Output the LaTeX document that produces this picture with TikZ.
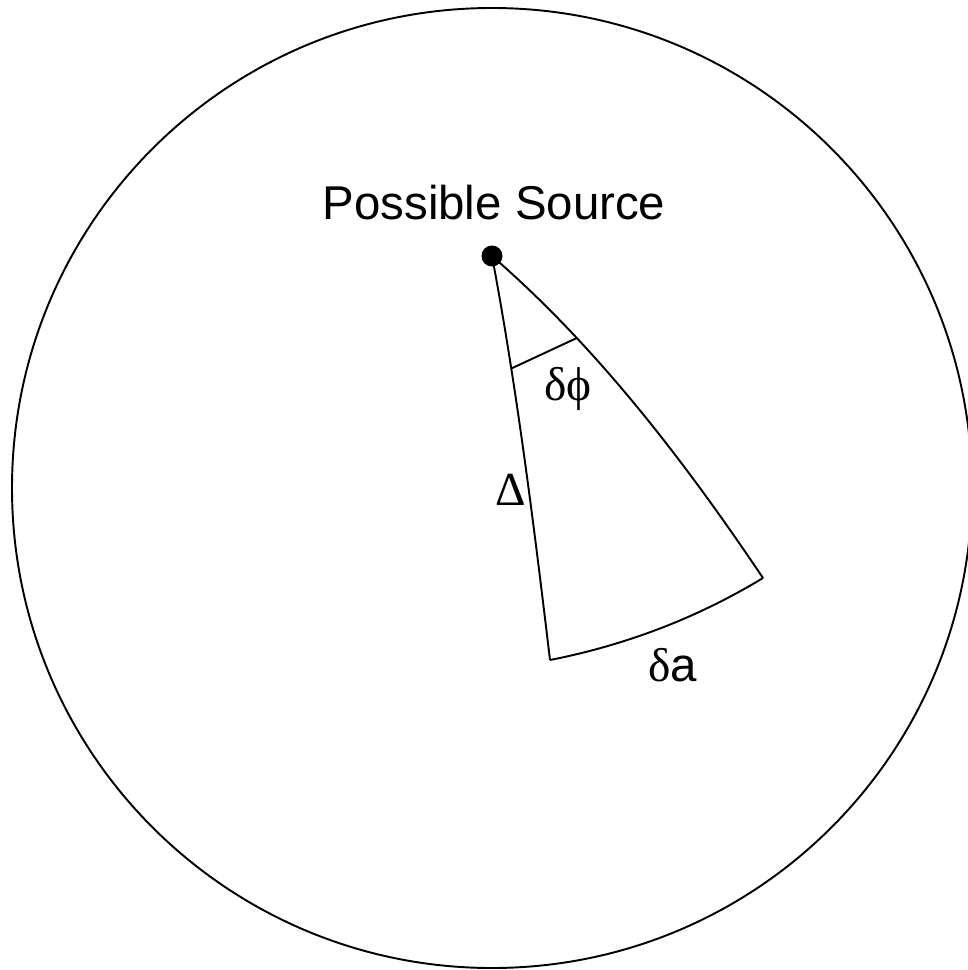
\documentclass[tikz,border=0pt]{standalone}
\usepackage{fontspec}
\setmainfont{Liberation Sans}
\newfontfamily\greekfont{Liberation Serif}
\usetikzlibrary{positioning}

\begin{document}
\begin{tikzpicture}[
    x=0.02cm, y=-0.02cm,
    edge/.style={draw=black, line width=1.1pt},
    lbl/.style={font=\fontsize{27}{32}\selectfont, inner sep=0pt, anchor=base},
    grk/.style={lbl, font=\fontsize{27}{32}\selectfont\greekfont},
    dot/.style={circle, fill=black, inner sep=0pt, minimum size=0.42cm}
  ]
    \useasboundingbox (0,0) rectangle (967,970);
    % sky circle
    \draw[edge] (492,488) circle[radius=480];
    % source and corners of the patch
    \node[dot] (src) at (492,256) {};
    \coordinate (bl) at (550,660);
    \coordinate (br) at (763,578);
    \draw[edge] (src.center) .. controls (517,389) and (534,526) .. (bl)
      coordinate[pos=0.28] (dl);
    \draw[edge] (src.center) .. controls (598,348) and (685,462) .. (br)
      coordinate[pos=0.28] (dr);
    \draw[edge] (bl) .. controls (626,645) and (697,618) .. (br);
    \draw[edge] (dl) -- (dr);
    % labels
    \node[lbl] (title) at (494,219) {Possible Source};
    \node[grk] (dphi) at (568,400) {δϕ};
    \node[grk] (delta) at (511,505) {Δ};
    \node[lbl] (da) at (673,681) {{\greekfont δ}a};
\end{tikzpicture}
\end{document}
